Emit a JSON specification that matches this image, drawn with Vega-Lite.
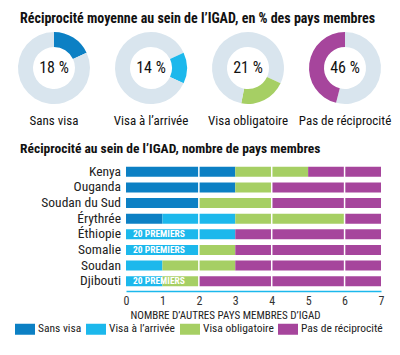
{
  "$schema": "https://vega.github.io/schema/vega-lite/v6.json",
  "padding": {"left": 15, "top": 12, "right": 5, "bottom": 0},
  "background": "white",
  "config": {
    "font": "Roboto Condensed, DejaVu Sans Condensed, sans-serif",
    "view": {"stroke": null},
    "title": {"fontSize": 14, "fontWeight": "bold", "color": "#111111", "anchor": "start", "frame": "bounds", "dx": 5},
    "axisX": {
      "title": "NOMBRE D’AUTRES PAYS MEMBRES D’IGAD", "titleFontSize": 11, "titleFontWeight": "normal", "titleColor": "#222222", "titlePadding": 3,
      "titleAnchor": "start", "titleAlign": "left", "titleX": 4,
      "grid": false, "ticks": false,
      "labelOverlap": false, "labelFlush": false, "labelBound": false,
      "domainColor": "#1cb8ec", "domainWidth": 1.5, "offset": 2,
      "labelFontSize": 12, "labelColor": "#333333", "labelPadding": 4
    }
  },
  "resolve": {"scale": {"color": "independent"}, "legend": {"color": "independent"}},
  "spacing": 13,
  "vconcat": [
    {
      "title": {"text": "Réciprocité moyenne au sein de l’IGAD, en % des pays membres", "offset": 6},
      "data": {"values": [
        {"cat": "Sans visa", "seg": 1, "part": "reste", "pct": 0},
        {"cat": "Sans visa", "seg": 2, "part": "Sans visa", "pct": 18},
        {"cat": "Sans visa", "seg": 3, "part": "reste", "pct": 82},
        {"cat": "Visa à l’arrivée", "seg": 1, "part": "reste", "pct": 18},
        {"cat": "Visa à l’arrivée", "seg": 2, "part": "Visa à l’arrivée", "pct": 14},
        {"cat": "Visa à l’arrivée", "seg": 3, "part": "reste", "pct": 68},
        {"cat": "Visa obligatoire", "seg": 1, "part": "reste", "pct": 32},
        {"cat": "Visa obligatoire", "seg": 2, "part": "Visa obligatoire", "pct": 21},
        {"cat": "Visa obligatoire", "seg": 3, "part": "reste", "pct": 47},
        {"cat": "Pas de réciprocité", "seg": 1, "part": "reste", "pct": 54},
        {"cat": "Pas de réciprocité", "seg": 2, "part": "Pas de réciprocité", "pct": 46},
        {"cat": "Pas de réciprocité", "seg": 3, "part": "reste", "pct": 0}
      ]},
      "facet": {
        "column": {
          "field": "cat",
          "sort": ["Sans visa", "Visa à l’arrivée", "Visa obligatoire", "Pas de réciprocité"],
          "header": {"title": null, "labelOrient": "bottom", "labelFontSize": 13, "labelColor": "#111111", "labelPadding": 11}
        }
      },
      "spacing": 19,
      "spec": {
        "width": 78,
        "height": 72,
        "layer": [
          {
            "mark": {"type": "arc", "outerRadius": 36, "innerRadius": 21},
            "encoding": {
              "theta": {"field": "pct", "type": "quantitative", "stack": true},
              "order": {"field": "seg", "type": "ordinal"},
              "color": {
                "field": "part", "type": "nominal", "legend": null,
                "scale": {
                  "domain": ["Sans visa", "Visa à l’arrivée", "Visa obligatoire", "Pas de réciprocité", "reste"],
                  "range": ["#0c80c4", "#1cb8ec", "#a6cf64", "#a6459c", "#d9e5ee"]
                }
              }
            }
          },
          {
            "transform": [{"filter": "datum.seg == 2"}, {"calculate": "datum.pct + ' %'", "as": "etiquette"}],
            "mark": {"type": "text", "fontSize": 16, "color": "#111111", "baseline": "middle", "align": "center"},
            "encoding": {"text": {"field": "etiquette"}}
          }
        ]
      }
    },
    {
      "title": {"text": "Réciprocité au sein de l’IGAD, nombre de pays membres", "offset": 8, "fontSize": 13.5},
      "spacing": 5,
      "bounds": "flush",
      "hconcat": [
        {
          "width": 106,
          "height": 125,
          "data": {"values": [
            {"pays": "Kenya"}, {"pays": "Ouganda"}, {"pays": "Soudan du Sud"}, {"pays": "Érythrée"},
            {"pays": "Éthiopie"}, {"pays": "Somalie"}, {"pays": "Soudan"}, {"pays": "Djibouti"}
          ]},
          "mark": {"type": "text", "align": "right", "baseline": "middle", "fontSize": 13.5, "color": "#222222"},
          "encoding": {
            "y": {
              "field": "pays", "type": "nominal",
              "sort": ["Kenya", "Ouganda", "Soudan du Sud", "Érythrée", "Éthiopie", "Somalie", "Soudan", "Djibouti"],
              "scale": {"paddingInner": 0.36, "paddingOuter": 0.18},
              "axis": null
            },
            "x": {"datum": 1, "type": "quantitative", "scale": {"domain": [0, 1]}, "axis": null},
            "text": {"field": "pays"}
          }
        },
        {
          "width": 255,
          "height": 125,
          "layer": [
            {
              "data": {"values": [
                {"pays": "Kenya", "type": "Sans visa", "rang": 1, "n": 3},
                {"pays": "Kenya", "type": "Visa obligatoire", "rang": 3, "n": 2},
                {"pays": "Kenya", "type": "Pas de réciprocité", "rang": 4, "n": 2},
                {"pays": "Ouganda", "type": "Sans visa", "rang": 1, "n": 3},
                {"pays": "Ouganda", "type": "Visa obligatoire", "rang": 3, "n": 1},
                {"pays": "Ouganda", "type": "Pas de réciprocité", "rang": 4, "n": 3},
                {"pays": "Soudan du Sud", "type": "Sans visa", "rang": 1, "n": 2},
                {"pays": "Soudan du Sud", "type": "Visa obligatoire", "rang": 3, "n": 2},
                {"pays": "Soudan du Sud", "type": "Pas de réciprocité", "rang": 4, "n": 3},
                {"pays": "Érythrée", "type": "Sans visa", "rang": 1, "n": 1},
                {"pays": "Érythrée", "type": "Visa à l’arrivée", "rang": 2, "n": 2},
                {"pays": "Érythrée", "type": "Visa obligatoire", "rang": 3, "n": 3},
                {"pays": "Érythrée", "type": "Pas de réciprocité", "rang": 4, "n": 1},
                {"pays": "Éthiopie", "type": "Visa à l’arrivée", "rang": 2, "n": 3},
                {"pays": "Éthiopie", "type": "Pas de réciprocité", "rang": 4, "n": 4},
                {"pays": "Somalie", "type": "Visa à l’arrivée", "rang": 2, "n": 2},
                {"pays": "Somalie", "type": "Visa obligatoire", "rang": 3, "n": 1},
                {"pays": "Somalie", "type": "Pas de réciprocité", "rang": 4, "n": 4},
                {"pays": "Soudan", "type": "Visa à l’arrivée", "rang": 2, "n": 1},
                {"pays": "Soudan", "type": "Visa obligatoire", "rang": 3, "n": 2},
                {"pays": "Soudan", "type": "Pas de réciprocité", "rang": 4, "n": 4},
                {"pays": "Djibouti", "type": "Visa à l’arrivée", "rang": 2, "n": 1},
                {"pays": "Djibouti", "type": "Visa obligatoire", "rang": 3, "n": 1},
                {"pays": "Djibouti", "type": "Pas de réciprocité", "rang": 4, "n": 5}
              ]},
              "mark": {"type": "bar"},
              "encoding": {
                "y": {
                  "field": "pays", "type": "nominal",
                  "sort": ["Kenya", "Ouganda", "Soudan du Sud", "Érythrée", "Éthiopie", "Somalie", "Soudan", "Djibouti"],
                  "scale": {"paddingInner": 0.36, "paddingOuter": 0.18},
                  "axis": null
                },
                "x": {
                  "field": "n", "type": "quantitative", "stack": "zero",
                  "scale": {"domain": [0, 7], "nice": false},
                  "axis": {"values": [0, 1, 2, 3, 4, 5, 6, 7], "title": "NOMBRE D’AUTRES PAYS MEMBRES D’IGAD"}
                },
                "order": {"field": "rang", "type": "quantitative"},
                "color": {
                  "field": "type", "type": "nominal",
                  "scale": {
                    "domain": ["Sans visa", "Visa à l’arrivée", "Visa obligatoire", "Pas de réciprocité"],
                    "range": ["#0c80c4", "#1cb8ec", "#a6cf64", "#a6459c"]
                  },
                  "legend": {
                    "title": null, "orient": "none", "direction": "horizontal", "legendX": 0, "legendY": 155,
                    "symbolType": "M-1,-0.55H1V0.55H-1Z", "symbolSize": 400, "symbolStrokeWidth": 0, "symbolOpacity": 1,
                    "labelFontSize": 11.5, "labelColor": "#222222", "labelOffset": 3, "columnPadding": 4
                  }
                }
              }
            },
            {
              "data": {"values": [{"n": 2}, {"n": 4}, {"n": 6}]},
              "mark": {"type": "rule", "color": "white", "strokeWidth": 1.5},
              "encoding": {
                "x": {"field": "n", "type": "quantitative", "axis": {"values": [0, 1, 2, 3, 4, 5, 6, 7], "title": "NOMBRE D’AUTRES PAYS MEMBRES D’IGAD"}}
              }
            },
            {
              "data": {"values": [
                {"pays": "Éthiopie", "n": 0, "note": "20 PREMIERS"},
                {"pays": "Somalie", "n": 0, "note": "20 PREMIERS"},
                {"pays": "Djibouti", "n": 0, "note": "20 PREMIERS"}
              ]},
              "mark": {"type": "text", "align": "left", "dx": 7, "fontSize": 9.5, "fontWeight": "bold", "color": "white", "baseline": "middle"},
              "encoding": {
                "y": {"field": "pays", "type": "nominal", "sort": ["Kenya", "Ouganda", "Soudan du Sud", "Érythrée", "Éthiopie", "Somalie", "Soudan", "Djibouti"]},
                "x": {"field": "n", "type": "quantitative", "axis": {"values": [0, 1, 2, 3, 4, 5, 6, 7], "title": "NOMBRE D’AUTRES PAYS MEMBRES D’IGAD"}},
                "text": {"field": "note"}
              }
            }
          ]
        }
      ]
    }
  ]
}
